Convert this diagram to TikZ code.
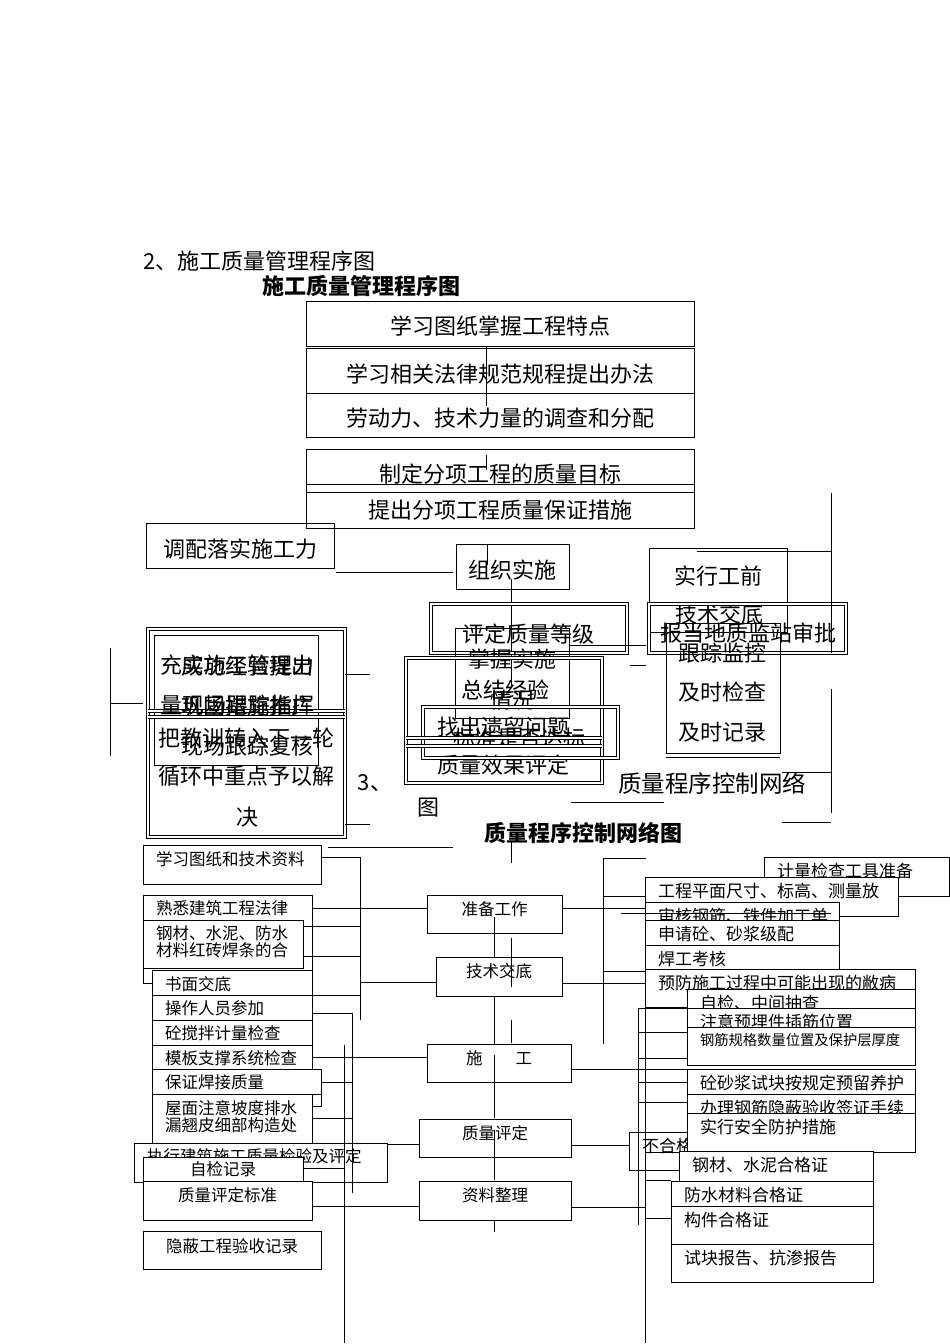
\documentclass[tikz,border=0pt]{standalone}
\usepackage{fontspec}
\setmainfont{Noto Sans CJK SC}
\usetikzlibrary{fit}
\begin{document}
\begin{tikzpicture}[x=1pt, y=-1pt, line width=0.8pt,
  box/.style={draw, inner sep=0pt},
  wbox/.style={draw, fill=white, inner sep=0pt},
  dbox/.style={draw, double, double distance=2.2pt, line width=0.8pt, inner sep=0pt},
  dline/.style={double, double distance=2.2pt, line width=0.8pt},
  big/.style={font=\fontsize{22}{26}\selectfont, inner sep=0pt},
  bigb/.style={font=\fontsize{22}{26}\selectfont\bfseries, inner sep=0pt},
  small/.style={font=\fontsize{16.5}{17}\selectfont, inner sep=0pt},
  rsmall/.style={font=\fontsize{17}{17}\selectfont, inner sep=0pt}]

\fill[white] (0,0) rectangle (950,1344);
\useasboundingbox (0,0) rectangle (950,1344);

% titles
\node[big, anchor=west] (tit2) at (143,261) {2、施工质量管理程序图};
\node[bigb] (tit2b) at (361,286) {施工质量管理程序图};

% upper column
\node[box, fit={(306,301)(694,346)}] (a1) {};
\node[big] (a1-t) at ([yshift=-3pt]a1.center) {学习图纸掌握工程特点};
\node[box, fit={(306,348)(694,393)}] (a2) {};
\node[big] (a2-t) at ([yshift=-4pt]a2.center) {学习相关法律规范规程提出办法};
\node[box, fit={(306,393)(694,437)}] (a3) {};
\node[big] (a3-t) at ([yshift=-3pt]a3.center) {劳动力、技术力量的调查和分配};
\node[box, fit={(306,449)(694,492)}] (a4) {};
\node[big] (a4-t) at ([yshift=-3.5pt]a4.center) {制定分项工程的质量目标};
\node[box, fit={(306,484)(694,528)}] (a5) {};
\node[big] (a5-t) at ([yshift=-4pt]a5.center) {提出分项工程质量保证措施};
\draw ([xshift=-14pt]a1.south) -- ++(0,60);
\draw ([shift={(-14,6)}]a4.north) -- ++(0,15);

% middle row
\node[box, fit={(146,523)(334,568)}] (dp) {};
\node[big] (dp-t) at ([yshift=-3.5pt]dp.center) {调配落实施工力};
\node[box, fit={(456,544)(569,589)}] (zz) {};
\node[big] (zz-t) at ([yshift=-3.5pt]zz.center) {组织实施};
\draw ([shift={(2,4)}]dp.south east) -- ++(117,0);
\draw ([xshift=-25.5pt]zz.north) -- ++(0,21);
\draw ([shift={(-1,12)}]zz.center) -- ++(0,109);

\node[dbox, fit={(431,604)(627,653)}] (pdzl) {};
\node[big] (pdzl-t) at (528,634) {评定质量等级};
\node[box, fit={(455,628)(569,718)}] (zw) {};
\node[big, align=center, font=\fontsize{22}{41}\selectfont] (zw-t) at (512,680) {掌握实施\\情况};
\node[dbox, fit={(406,658)(602,783)}] (xg) {};
\node[big] (xg-t1) at (505,690) {总结经验};
\node[big] (xg-t2) at (503,765) {质量效果评定};
\node[dbox, fit={(423,707)(618,758)}] (zcwt) {};
\node[big] (zcwt-t1) at (503,727) {找出遗留问题};
\node[big] (zcwt-t2) at (519,738) {标准是否达标};
\draw[dline] (xg.west |- 0,738) -- (xg.east |- 0,738);
\draw[dline] (xg.west |- 0,746) -- (xg.east |- 0,746);
\draw (pdzl.south -| zw.east) ++(1,-8) -- ++(76,0);

% right group
\node[box, fit={(649,548)(787,632)}] (sxgq) {};
\node[big] (sxgq-t1) at (718,576) {实行工前};
\node[big] (sxgq-t2) at (719,614) {技术交底};
\node[dbox, fit={(649,604)(846,653)}] (bdsp) {};
\node[big] (bdsp-t) at (748,633) {报当地质监站审批};
\node[box, fit={(666,623)(780,753)}] (gzjk) {};
\node[big, align=center, font=\fontsize{22}{39.5}\selectfont] (gzjk-t) at (722,692.5) {跟踪监控\\及时检查\\及时记录};
\draw ([yshift=-4pt]gzjk.south west) -- ([yshift=-4pt]gzjk.south east);
\draw ([shift={(-19,12)}]bdsp.south west) -- ++(16,0);
\coordinate (rb1) at (831,493);
\draw (rb1) -- ++(0,160);
\draw (rb1) ++(0,58) -- ++(-134,0);
\coordinate (rb2) at (831,689);
\draw (rb2) -- ++(0,124);
\draw (rb2) ++(0,83) -- ++(-49,0);
\draw (rb2) ++(0,133) -- ++(-49,0);

% left group
\node[dbox, fit={(148,629)(345,837)}] (lb) {};
\node[box, fit={(154,635)(318,765)}] (lbi) {};
\draw[dline] (lb.west |- 0,711) -- (lb.east |- 0,711);
\draw[dline] (lb.west |- 0,717) -- (lb.east |- 0,717);
\node[big, anchor=west, align=left, font=\fontsize{22}{40}\selectfont] (lb-t1) at (160,685) {充实施工管理力\\量现场跟踪指挥};
\node[big, anchor=west, align=left, font=\fontsize{22}{40}\selectfont] (lb-t2) at (181,706) {成功经验提出\\巩固措施推广\\现场跟踪复核};
\node[big, anchor=west, align=left, font=\fontsize{22}{38}\selectfont] (lb-t3) at (158,757) {把教训转入下一轮\\循环中重点予以解};
\node[big] (lb-t4) at (247,817) {决};
\coordinate (lb1) at (110,648);
\draw (lb1) -- ++(0,108);
\draw (lb1) ++(0,55) -- ++(33,0);
\draw ([yshift=-46pt]lb.north east) -- ++(25,0);
\draw ([yshift=13pt]lb.south east) -- ++(25,0);

% second title
\node[big, font=\fontsize{23.5}{26}\selectfont] (wl) at (712,783) {质量程序控制网络};
\coordinate (wl1) at (571,802);
\draw (wl1) -- ++(93,0);
\node[big] (n3) at (375,783) {3、};
\node[big] (tu) at (428,808) {图};
\node[bigb] (tit3) at (583,833) {质量程序控制网络图};

% network: left column
\foreach \n/\xa/\ya/\xb/\yb/\txt in {
  xx/143/845/321/884/学习图纸和技术资料,
  sx/143/895/312/983/熟悉建筑工程法律,
  gc/143/920/303/968/{钢材、水泥、防水\\材料红砖焊条的合},
  sm/152/970/312/995/书面交底,
  cz/152/995/312/1020/操作人员参加,
  tj/152/1020/312/1045/砼搅拌计量检查,
  mb/152/1045/312/1069/模板支撑系统检查,
  bz/152/1069/321/1094/保证焊接质量,
  wm/152/1094/312/1143/{屋面注意坡度排水\\漏翘皮细部构造处},
  zx/134/1143/387/1182/执行建筑施工质量检验及评定}
{
  \node[wbox, fit={(\xa,\ya)(\xb,\yb)}] (\n) {};
  \node[small, anchor=north west, align=left] (\n-t) at ([shift={(13,6)}]\n.north west) {\txt};
}
\node[wbox, fit={(143,1157)(303,1181)}] (zjjl) {};
\node[small] (zjjl-t) at (zjjl.center) {自检记录};
\node[wbox, fit={(143,1181)(312,1220)}] (pdbz) {};
\node[small] (pdbz-t) at ([yshift=-15pt]pdbz.north) {质量评定标准};
\node[wbox, fit={(143,1231)(321,1269)}] (yb) {};
\node[small] (yb-t) at ([yshift=-16pt]yb.north) {隐蔽工程验收记录};

% network: centre column
\foreach \n/\xa/\ya/\xb/\yb/\txt in {
  zb/427/895/562/933/准备工作,
  js/436/957/562/996/技术交底,
  sg/427/1044/571/1082/施　　工,
  zlpd/419/1119/571/1157/质量评定,
  zl/419/1181/571/1220/资料整理}
{
  \node[wbox, fit={(\xa,\ya)(\xb,\yb)}] (\n) {};
  \node[small] (\n-t) at ([yshift=-15pt]\n.north) {\txt};
}

% network: right column
\foreach \n/\xa/\ya/\xb/\yb/\txt in {
  jl/764/857/949/896/计量检查工具准备,
  gm/645/877/898/916/{工程平面尺寸、标高、测量放},
  sh/645/902/839/920/{审核钢筋、铁件加工单},
  sq/645/920/839/945/{申请砼、砂浆级配},
  hg/645/945/839/970/焊工考核,
  yf/645/969/915/1007/预防施工过程中可能出现的敝病,
  zcjc/687/989/915/1008/{自检、中间抽查},
  yj/687/1008/915/1027/注意预埋件插筋位置,
  sk/687/1069/915/1094/砼砂浆试块按规定预留养护,
  bl/687/1094/915/1113/办理钢筋隐蔽验收签证手续,
  bh/629/1132/688/1170/不合格,
  aq/687/1113/915/1152/实行安全防护措施,
  gs/679/1151/873/1181/{钢材、水泥合格证},
  fs/671/1181/873/1206/防水材料合格证,
  gjz/671/1206/873/1244/构件合格证,
  bg/671/1244/873/1282/{试块报告、抗渗报告}}
{
  \node[wbox, fit={(\xa,\ya)(\xb,\yb)}] (\n) {};
  \node[rsmall, anchor=north west] (\n-t) at ([shift={(13,6)}]\n.north west) {\txt};
}
\node[wbox, fit={(687,1027)(915,1065)}] (gj) {};
\node[font=\fontsize{14.3}{16}\selectfont, inner sep=0pt, anchor=west] (gj-t) at ([shift={(13,13)}]gj.north west) {钢筋规格数量位置及保护层厚度};

% network: left feeders
\draw ([yshift=-13pt]xx.north east) -| ++(39,162);
\draw ([yshift=-14pt]sx.north east) -- ([yshift=-14pt]sx.north east -| zb.west);
\draw ([yshift=-7pt]gc.north east) -- ++(57,0);
\draw ([yshift=-37pt]gc.north east) -- ++(57,0);
\draw ([yshift=-26pt]js.north west) -- ++(-76,0);
\draw (sm.south east) -- ++(48,0);
\draw ([yshift=-19pt]cz.north east) -| ++(40,179);
\draw ([xshift=32pt]mb.north east) -- ++(0,298);
\draw ([yshift=-13pt]mb.north east) -- ([yshift=-13pt]mb.north east -| sg.west);
\draw ([yshift=-14pt]bz.north east) -- ++(31,0);
\draw ([yshift=-13pt]wm.north east) -| ++(9,-27);
\draw ([yshift=-25pt]wm.north east) -- ++(40,0);
\draw ([yshift=-2pt]zx.north east) -- ([yshift=-2pt]zx.north east -| zlpd.west);
\draw ([yshift=-12pt]zjjl.north east) -- ++(41,0);
\draw ([yshift=-26pt]pdbz.north east) -- ([yshift=-26pt]pdbz.north east -| zl.west);
\draw ([shift={(7,3)}]xx.north east) -- ++(125,0);

% network: spine
\draw ([xshift=17pt]zb.north) ++(0,-53) -- ++(0,21);
\draw ([yshift=-22pt]zb.north) -- ++(0,40);
\draw ([shift={(17,5)}]zb.south) -- ++(0,49);
\draw (js.south -| zb.south) -- (sg.north -| zb.south);
\draw (js.south -| zb.south) ++(17,24) -- ++(0,23);
\draw (sg.north -| zb.south) ++(0,11) -- ++(0,63);
\draw (zlpd.north -| zb.south) ++(0,11) -- ++(0,50);
\draw (zl.south -| zb.south) -- ++(0,12);

% network: right feeders
\coordinate (rv) at (603,858);
\draw (rv) -- ++(0,186);
\foreach \d in {0,38,113}
  \draw (rv) ++(0,\d) -- ++(43,0);
\draw ([yshift=6pt]zb.east) -- ([yshift=6pt]zb.east -| gm.west);
\draw ([shift={(-24,2)}]sh.west) -- ++(210,0);
\draw ([yshift=-6.5pt]js.east) -- ([yshift=-6.5pt]js.east -| yf.west);
\draw ([yshift=-6pt]sg.east) -- ([yshift=-6pt]sg.east -| zcjc.west);
\coordinate (rv2) at (638,1008);
\draw (rv2) -- ++(0,217);
\foreach \d in {0,24,50,74,94}
  \draw (rv2) ++(0,\d) -- ++(49,0);
\draw ([xshift=1pt]yf.north west) -- ++(0,374);
\draw ([yshift=-7pt]zlpd.east) -- ([yshift=-7pt]zlpd.east -| bh.west);
\draw ([yshift=-6.5pt]zl.east) -- ++(75,0);
\draw ([yshift=-2pt]gs.north west) -- ++(-34,0);
\draw (fs.north west) -- ++(-25,0);
\draw ([yshift=-13pt]gjz.north west) -- ++(-25,0);
\end{tikzpicture}
\end{document}
